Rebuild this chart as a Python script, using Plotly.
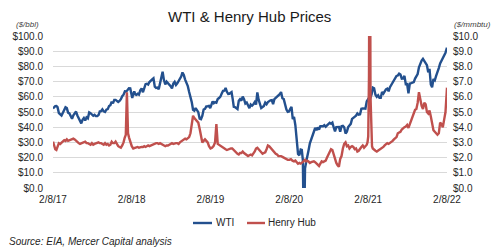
import pandas as pd
import plotly.graph_objects as go

START = pd.Timestamp("2017-02-08")
END = pd.Timestamp("2022-02-08")

# ---- WTI ($/bbl), roughly weekly values grouped by month ----
wti_2017 = [  # Feb..Dec
    [52.3, 53.2, 53.9, 54.0],
    [53.2, 49.3, 48.4, 47.7, 49.5],
    [51.7, 53.1, 52.6, 49.6, 49.1],
    [47.8, 45.6, 47.8, 49.4, 50.3],
    [47.7, 45.9, 44.5, 42.5, 44.9],
    [46.1, 44.4, 46.5, 45.8, 49.7],
    [49.2, 48.6, 47.5, 48.1, 47.3],
    [47.3, 48.0, 50.4, 50.6, 51.7],
    [50.4, 50.0, 51.5, 51.9, 53.9],
    [54.5, 56.8, 55.7, 58.0, 58.0],
    [57.4, 56.6, 57.3, 58.4, 60.4],
]
wti_2018 = [
    [61.4, 63.6, 63.5, 64.5, 65.6],
    [65.5, 61.7, 59.2, 61.8, 63.6, 61.6],
    [61.3, 62.0, 61.4, 64.3, 65.5],
    [63.0, 66.5, 68.3, 68.6, 68.1],
    [69.7, 71.0, 71.5, 72.2, 66.7],
    [65.8, 66.0, 65.0, 68.6, 74.2],
    [76.5, 71.0, 68.1, 70.0, 69.0],
    [68.5, 67.0, 65.5, 68.7, 69.8],
    [67.8, 68.9, 70.5, 72.0, 73.3],
    [76.0, 74.3, 71.3, 69.2, 67.0],
    [63.1, 60.2, 56.5, 51.5, 50.9],
    [52.6, 51.2, 49.9, 45.6, 45.3],
]
wti_2019 = [
    [47.5, 51.6, 52.1, 53.7, 53.8],
    [54.0, 52.6, 55.6, 57.0, 55.8],
    [56.5, 56.1, 58.5, 59.2, 60.1],
    [62.1, 63.9, 64.0, 65.8, 63.3],
    [61.9, 62.0, 62.8, 63.1, 58.6, 53.5],
    [53.3, 52.5, 52.0, 57.4, 58.5],
    [57.5, 60.2, 58.5, 55.6, 56.2],
    [54.0, 52.5, 54.9, 54.2, 55.1],
    [56.5, 54.9, 62.9, 58.1, 55.9],
    [52.6, 53.3, 54.0, 56.2, 55.1],
    [56.5, 57.2, 57.7, 57.8, 55.2],
    [58.4, 59.2, 60.1, 61.2, 61.7],
]
wti_2020 = [
    [63.1, 59.0, 58.5, 54.2, 51.6],
    [50.1, 50.3, 52.1, 53.4, 45.3],
    [46.8, 41.3, 31.7, 22.4, 21.5],
    [25.3, 25.1, 18.3, -37.6, 12.8, 16.9],
    [19.8, 24.7, 29.4, 32.5, 35.5],
    [37.0, 39.6, 38.0, 39.8, 38.5],
    [40.6, 40.5, 40.6, 41.3, 40.3],
    [41.2, 42.0, 42.9, 42.3, 43.0],
    [39.8, 37.3, 40.1, 40.3, 40.2],
    [37.1, 40.6, 40.9, 39.9, 35.8],
    [37.1, 40.1, 41.4, 42.2, 45.5],
    [46.3, 46.6, 47.6, 49.1, 48.2],
]
wti_2021 = [
    [48.5, 52.2, 52.4, 52.3, 52.2],
    [56.9, 58.4, 59.5, 59.2, 61.5],
    [66.1, 65.6, 61.4, 60.0, 61.0],
    [59.3, 59.3, 63.1, 62.1, 63.6],
    [64.9, 65.4, 63.6, 66.3, 67.7],
    [69.6, 70.9, 71.6, 73.7, 74.0],
    [75.2, 74.6, 71.9, 72.1, 73.8],
    [68.3, 68.4, 62.3, 68.7, 69.0],
    [69.3, 69.7, 72.0, 74.0, 75.0],
    [79.4, 82.3, 83.8, 85.0, 83.6],
    [81.3, 80.8, 76.1, 78.4, 68.2],
    [66.3, 71.7, 70.9, 73.8, 76.0],
]
wti_2022 = [
    [78.9, 82.0, 83.8, 85.1, 86.8],
    [89.0, 92.3],
]

# ---- Henry Hub ($/mmbtu), grouped by month ----
hh_2017 = [  # Feb..Dec
    [3.05, 2.85, 2.55, 2.5],
    [2.75, 2.95, 2.9, 3.0, 3.05],
    [3.15, 3.1, 3.2, 3.1, 3.15],
    [3.15, 3.2, 3.25, 3.2, 3.1],
    [3.05, 2.95, 2.9, 2.95, 2.95],
    [3.0, 3.05, 2.95, 2.95, 2.9],
    [2.85, 2.95, 2.85, 2.9, 2.95],
    [2.95, 3.0, 2.95, 2.95, 2.9],
    [2.85, 2.95, 2.85, 2.9, 2.8],
    [2.85, 3.05, 2.95, 2.95, 3.05],
    [2.9, 2.75, 2.7, 2.65, 2.8],
]
hh_2018 = [
    [3.0, 3.3, 3.5, 6.3, 3.6, 3.3],
    [3.0, 2.75, 2.6, 2.65],
    [2.65, 2.7, 2.65, 2.7, 2.7],
    [2.7, 2.75, 2.7, 2.75, 2.8],
    [2.75, 2.8, 2.85, 2.9, 2.95],
    [2.95, 2.95, 2.9, 2.95, 2.9],
    [2.85, 2.8, 2.75, 2.8, 2.8],
    [2.85, 2.9, 2.95, 2.9, 2.95],
    [2.95, 2.95, 2.9, 3.0, 3.05],
    [3.1, 3.15, 3.25, 3.2, 3.25],
    [3.35, 3.6, 4.3, 4.75, 4.6],
    [4.5, 4.45, 4.3, 3.9, 3.3],
]
hh_2019 = [
    [3.0, 3.1, 3.2, 3.1, 3.0],
    [2.75, 2.6, 2.65, 2.75],
    [3.0, 4.2, 2.9, 2.85, 2.75],
    [2.7, 2.65, 2.6, 2.55, 2.5],
    [2.55, 2.55, 2.6, 2.6, 2.5],
    [2.4, 2.35, 2.25, 2.2, 2.3],
    [2.3, 2.4, 2.3, 2.25, 2.15],
    [2.1, 2.15, 2.2, 2.15, 2.25],
    [2.4, 2.6, 2.65, 2.55, 2.45],
    [2.3, 2.25, 2.3, 2.35, 2.55],
    [2.8, 2.75, 2.65, 2.55, 2.45],
    [2.3, 2.25, 2.2, 2.1, 2.1],
]
hh_2020 = [
    [2.1, 2.05, 2.0, 1.95, 1.9],
    [1.85, 1.85, 1.9, 1.8],
    [1.75, 1.8, 1.7, 1.6, 1.65],
    [1.6, 1.65, 1.7, 1.8, 1.85, 1.75],
    [1.8, 1.75, 1.65, 1.7, 1.75],
    [1.75, 1.7, 1.6, 1.5, 1.45],
    [1.6, 1.75, 1.7, 1.75, 1.8],
    [2.0, 2.2, 2.4, 2.55, 2.5],
    [2.2, 1.9, 1.65, 1.5, 1.4],
    [1.9, 2.1, 2.6, 2.9, 3.0],
    [2.75, 2.8, 2.6, 2.7, 2.75],
    [2.7, 2.55, 2.6, 2.4, 2.45],
]
hh_2021 = [
    [2.6, 2.7, 2.8, 2.65, 2.75],
    [2.85, 3.0, 3.4, 7.4, 23.86, 6.0, 2.9, 2.75],
    [2.6, 2.5, 2.45, 2.4, 2.45],
    [2.5, 2.55, 2.6, 2.7, 2.8],
    [2.9, 2.95, 2.9, 2.95, 3.0],
    [3.1, 3.2, 3.25, 3.35, 3.6],
    [3.65, 3.7, 3.85, 3.95, 4.0],
    [4.05, 4.15, 3.95, 4.2, 4.35],
    [4.6, 4.9, 5.15, 5.2, 5.6],
    [6.3, 5.7, 5.4, 5.2, 5.6],
    [5.5, 5.0, 4.9, 5.1, 4.7],
    [4.2, 3.8, 3.7, 3.6, 3.5],
]
hh_2022 = [
    [3.6, 4.3, 4.2, 4.0, 4.5],
    [5.0, 6.6],
]

x_tick_dates = ["2017-02-08", "2018-02-08", "2019-02-08", "2020-02-08", "2021-02-08", "2022-02-08"]
x_tick_text = ["2/8/17", "2/8/18", "2/8/19", "2/8/20", "2/8/21", "2/8/22"]
left_ticks = [0, 10, 20, 30, 40, 50, 60, 70, 80, 90, 100]
left_tick_text = ["$0.0", "$10.0", "$20.0", "$30.0", "$40.0", "$50.0",
                  "$60.0", "$70.0", "$80.0", "$90.0", "$100.0"]
right_ticks = [0, 1, 2, 3, 4, 5, 6, 7, 8, 9, 10]
right_tick_text = ["$0.0", "$1.0", "$2.0", "$3.0", "$4.0", "$5.0",
                   "$6.0", "$7.0", "$8.0", "$9.0", "$10.0"]


def expand(groups):
    xs, ys = [], []
    for year, first_month, months in groups:
        for j, vals in enumerate(months):
            ms = pd.Timestamp(year=year, month=first_month + j, day=1)
            me = ms + pd.offsets.MonthBegin(1)
            s = max(ms, START)
            k = len(vals)
            if me > END:
                ts = [s + (END - s) * (i / (k - 1)) for i in range(k)]
            else:
                ts = [s + (me - s) * (i / k) for i in range(k)]
            xs.extend(ts)
            ys.extend(vals)
    return xs, ys


wti_x, wti_y = expand([(2017, 2, wti_2017), (2018, 1, wti_2018), (2019, 1, wti_2019),
                       (2020, 1, wti_2020), (2021, 1, wti_2021), (2022, 1, wti_2022)])
hh_x, hh_y = expand([(2017, 2, hh_2017), (2018, 1, hh_2018), (2019, 1, hh_2019),
                     (2020, 1, hh_2020), (2021, 1, hh_2021), (2022, 1, hh_2022)])

BLUE = "#23508E"
RED = "#C0504D"
FONT = "Liberation Sans, Arial, sans-serif"
TXT = "#262626"

fig = go.Figure()
fig.add_trace(go.Scatter(x=wti_x, y=wti_y, mode="lines", name="WTI",
                         line=dict(color=BLUE, width=2.4), yaxis="y"))
fig.add_trace(go.Scatter(x=hh_x, y=hh_y, mode="lines", name="Henry Hub",
                         line=dict(color=RED, width=2.4), yaxis="y2"))

W, H = 500, 252
L, R, T, B = 53, 447, 36, 188


def px(x):
    return (x - L) / (R - L)


def py(y):
    return (B - y) / (B - T)


fig.update_layout(
    width=W, height=H,
    margin=dict(l=L, r=W - R, t=T, b=H - B),
    paper_bgcolor="white", plot_bgcolor="white",
    showlegend=False,
    font=dict(family=FONT, color=TXT, size=10),
    xaxis=dict(
        type="date", range=[START, END],
        tickvals=x_tick_dates, ticktext=x_tick_text,
        showgrid=False, zeroline=False, showline=False,
        ticks="", ticklabelstandoff=4,
        tickfont=dict(size=10, family=FONT, color=TXT),
    ),
    yaxis=dict(
        range=[0, 100], tickmode="array", tickvals=left_ticks, ticktext=left_tick_text,
        showgrid=True, gridcolor="#D9D9D9", gridwidth=1, zeroline=False,
        showline=False, ticks="", ticklabelstandoff=9,
        tickfont=dict(size=10, family=FONT, color=TXT),
    ),
    yaxis2=dict(
        range=[0, 10], tickmode="array", tickvals=right_ticks, ticktext=right_tick_text,
        overlaying="y", side="right", showgrid=False, zeroline=False,
        showline=False, ticks="", ticklabelstandoff=5,
        tickfont=dict(size=10, family=FONT, color=TXT),
    ),
)

annotations = [
    dict(text="WTI & Henry Hub Prices", x=px(249), y=py(16), xref="paper", yref="paper",
         showarrow=False, xanchor="center", yanchor="middle",
         font=dict(size=15, family=FONT, color="#1a1a1a")),
    dict(text="<i>($/bbl)</i>", x=px(14), y=py(25), xref="paper", yref="paper",
         showarrow=False, xanchor="left", yanchor="middle",
         font=dict(size=8, family=FONT, color="#404040")),
    dict(text="<i>($/mmbtu)</i>", x=px(452), y=py(25), xref="paper", yref="paper",
         showarrow=False, xanchor="left", yanchor="middle",
         font=dict(size=8, family=FONT, color="#404040")),
    dict(text="WTI", x=px(214), y=py(223), xref="paper", yref="paper",
         showarrow=False, xanchor="left", yanchor="middle",
         font=dict(size=10, family=FONT, color=TXT)),
    dict(text="Henry Hub", x=px(266), y=py(223), xref="paper", yref="paper",
         showarrow=False, xanchor="left", yanchor="middle",
         font=dict(size=10, family=FONT, color=TXT)),
    dict(text="<i>Source: EIA, Mercer Capital analysis</i>", x=px(7), y=py(242),
         xref="paper", yref="paper", showarrow=False, xanchor="left", yanchor="middle",
         font=dict(size=10, family=FONT, color=TXT)),
]
fig.update_layout(annotations=annotations)

shapes = [
    dict(type="line", xref="paper", yref="paper", x0=px(193), x1=px(212),
         y0=py(223), y1=py(223), line=dict(color=BLUE, width=2.4)),
    dict(type="line", xref="paper", yref="paper", x0=px(247), x1=px(265),
         y0=py(223), y1=py(223), line=dict(color=RED, width=2.4)),
]
fig.update_layout(shapes=shapes)

fig.write_html("out.html")
